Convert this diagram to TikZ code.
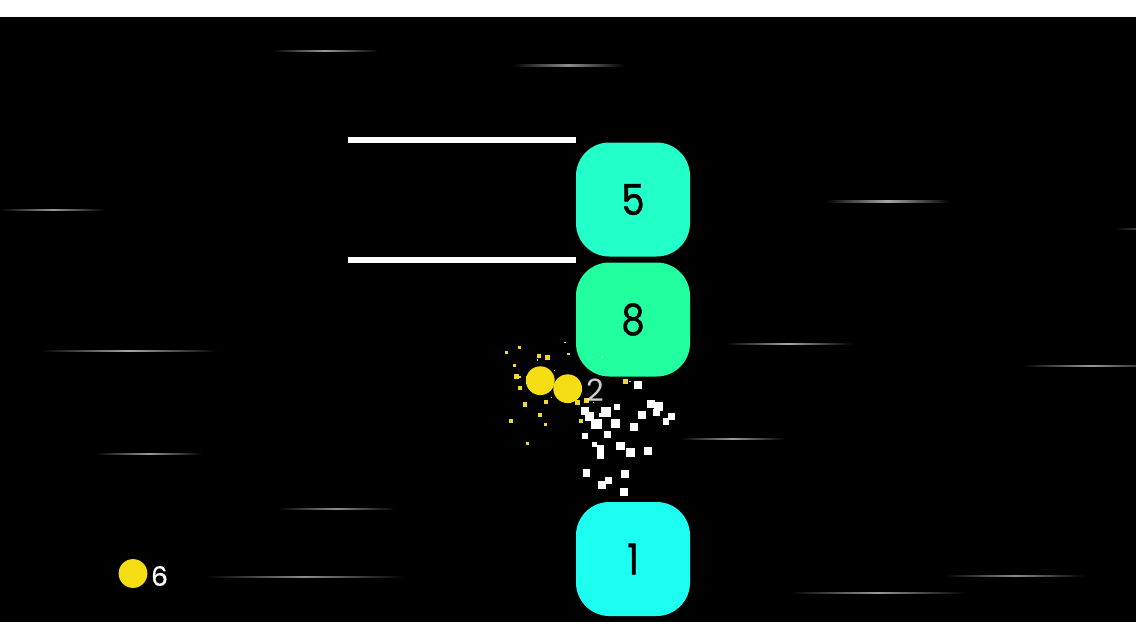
\documentclass[tikz,border=0pt]{standalone}
\usepackage{fontspec}
\setmainfont{Poppins}
\newfontfamily\blockfont[FakeStretch=0.86,FakeBold=1]{Poppins}
\newfontfamily\countfont[FakeBold=0.6]{Poppins}
\definecolor{blockA}{HTML}{22FFC8}
\definecolor{blockB}{HTML}{22FF9F}
\definecolor{blockC}{HTML}{1CFFF0}
\definecolor{ballY}{HTML}{F5DD14}
\definecolor{bitY}{HTML}{EFD92A}
\tikzset{
  px/.style={x=0.75pt,y=-0.75pt},
  blockbox/.style={rectangle,rounded corners=25pt,minimum width=85.5pt,minimum height=85.5pt,inner sep=0pt,text=black,font=\blockfont\fontsize{32}{32}\selectfont},
  ball/.style={circle,fill=ballY,minimum size=21.6pt,inner sep=0pt},
  bar/.style={fill=white},
}
\newcommand{\streak}[4]{\shade[left color=black,right color=black,middle color=#4] (#1,#3-0.7) rectangle (#2,#3+0.7);}
\begin{document}
\begin{tikzpicture}[px]
\useasboundingbox (0,0) rectangle (1136,639);
\fill[white] (0,0) rectangle (1136,639);
\fill[black] (0,17) rectangle (1136,621.5);
% streaks
\streak{272}{378}{51}{white!60!black}
\streak{512}{625}{65.5}{white!55!black}
\streak{0}{105}{210}{white!60!black}
\streak{825}{950}{201.5}{white!65!black}
\streak{1115}{1160}{229}{white!25!black}
\streak{40}{218}{351}{white!65!black}
\streak{725}{852}{344}{white!65!black}
\streak{1022}{1160}{366}{white!60!black}
\streak{95}{202}{454}{white!60!black}
\streak{680}{785}{439}{white!60!black}
\streak{278}{395}{509}{white!55!black}
\streak{205}{405}{577}{white!55!black}
\streak{945}{1085}{576}{white!55!black}
\streak{790}{965}{593}{white!60!black}
% bars
\fill[bar] (348,137) rectangle (576,142.5);
\fill[bar] (348,257) rectangle (576,262.5);
% blocks
\node[blockbox,fill=blockA] (five) at (633,199.5) {5};
\node[blockbox,fill=blockB] (eight) at (633,319.5) {8};
\node[blockbox,fill=blockC] (one) at (633,559) {1};
% white fragments (zoom coordinates: centre x, centre y, size)
\foreach \zx/\zy/\zs in {443/165/25,380/231/18,285/243/25,298/260/28,349/245/30,333/256/12,320/282/32,376/280/25,286/317/18,352/313/22,313/343/16,331/355/22,331/375/22,392/348/26,422/367/28,473/362/24,431/291/24,456/255/26,483/223/24,505/230/26,500/248/22,528/274/20,545/260/22,290/429/22,356/451/22,336/464/24,404/431/25,401/487/24}
  \fill[white] ({490+(\zx-\zs/2)/3},{330+(\zy-\zs/2)/3}) rectangle ({490+(\zx+\zs/2)/3},{330+(\zy+\zs/2)/3});
% yellow fragments
\foreach \zx/\zy/\zs in {407/155/16,146/77/13,173/82/14,88/53/9,49/68/8,74/107/10,78/139/15,90/173/11,105/224/14,168/216/12,150/255/12,62/272/12,167/283/9,113/340/8,263/217/15,289/212/14,273/272/12,225/37/5,236/72/8,193/121/5,311/217/4,420/155/4,185/202/4,90/141/4,110/141/4,143/90/4}
  \fill[bitY] ({490+(\zx-\zs/2)/3},{330+(\zy-\zs/2)/3}) rectangle ({490+(\zx+\zs/2)/3},{330+(\zy+\zs/2)/3});
\fill[bitY!60!blockB] ({490+334/3},{330+77/3}) rectangle ({490+340/3},{330+83/3});
% balls
\node[ball] (ballA) at (540.3,380.7) {};
\node[ball] (ballB) at (567.7,388.7) {};
\node[ball] (ballC) at (133,573.5) {};
\node[text=white,opacity=.8,font=\fontsize{23}{23}\selectfont,inner sep=0pt] (two) at (595,390.5) {2};
\node[text=white,font=\countfont\fontsize{20}{20}\selectfont,inner sep=0pt] (six) at (159.5,576) {6};
\end{tikzpicture}
\end{document}
